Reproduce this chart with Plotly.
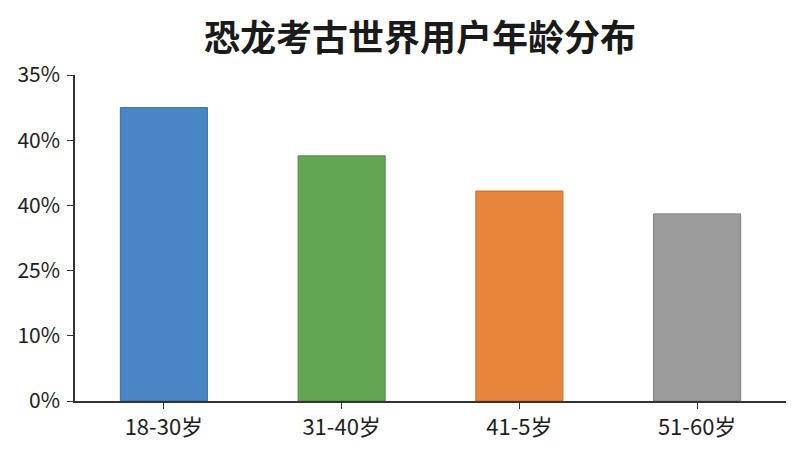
import plotly.graph_objects as go

# 数据
age_groups = ["18-30岁", "31-40岁", "41-5岁", "51-60岁"]
user_share = [45.0, 37.6, 32.2, 28.7]
bar_colors = ["#4a86c6", "#62a654", "#e9843c", "#9c9c9c"]
edge_colors = ["#3a6fa8", "#4f8a42", "#c96c2c", "#7f7f7f"]
tick_vals = [0, 10, 20, 30, 40, 50]
tick_text = ["0%", "10%", "25%", "40%", "40%", "35%"]

FONT = "Noto Sans CJK SC"

fig = go.Figure(go.Bar(
    x=age_groups,
    y=user_share,
    marker=dict(color=bar_colors, line=dict(color=edge_colors, width=1)),
    width=0.49,
))

# 页面 body 默认有 8px 的边距，这里把边距往回收一点
fig.update_layout(
    width=800,
    height=450,
    paper_bgcolor="white",
    plot_bgcolor="white",
    showlegend=False,
    margin=dict(l=67, r=22, t=67, b=57),
    font=dict(family=FONT, color="#222222"),
    title=dict(
        text="<b>恐龙考古世界用户年龄分布</b>",
        x=0.515, xanchor="center",
        y=0.933, yanchor="middle",
        font=dict(size=36, family=FONT, color="#1a1a1a"),
    ),
)

fig.update_xaxes(
    automargin=False,
    showline=True, linecolor="#333333", linewidth=1.5,
    ticks="outside", ticklen=6, tickcolor="#333333",
    tickfont=dict(size=22, family=FONT, color="#1e1e1e"),
    showgrid=False,
)
fig.update_yaxes(
    automargin=False,
    range=[0, 50],
    tickvals=tick_vals, ticktext=tick_text,
    showline=True, linecolor="#333333", linewidth=1.5,
    ticks="outside", ticklen=6, tickcolor="#333333",
    ticklabelstandoff=3,
    tickfont=dict(size=21, family=FONT, color="#1e1e1e"),
    showgrid=False, zeroline=False,
)

fig.write_html("out.html")
